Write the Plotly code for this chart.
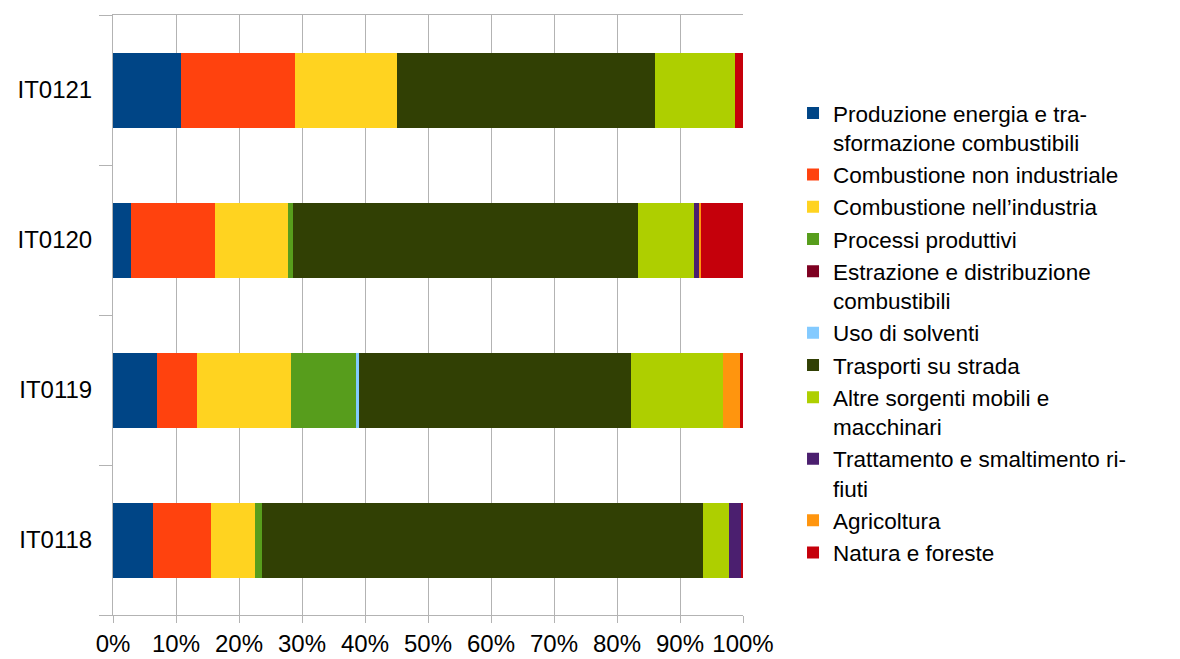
import plotly.graph_objects as go

stations = ["IT0121", "IT0120", "IT0119", "IT0118"]

sectors = [
    "Produzione energia e tra-<br>sformazione combustibili",
    "Combustione non industriale",
    "Combustione nell\u2019industria",
    "Processi produttivi",
    "Estrazione e distribuzione<br>combustibili",
    "Uso di solventi",
    "Trasporti su strada",
    "Altre sorgenti mobili e<br>macchinari",
    "Trattamento e smaltimento ri-<br>fiuti",
    "Agricoltura",
    "Natura e foreste",
]

colors = ["#004586", "#ff420e", "#ffd320", "#579d1c", "#7e0021", "#83caff",
          "#314004", "#aecf00", "#4b1f6f", "#ff950e", "#c5000b"]

# percentage share per sector, in the order of `stations`
produzione = [10.8, 2.85, 7.0, 6.3]
comb_non_ind = [18.1, 13.35, 6.4, 9.3]
comb_ind = [16.2, 11.5, 14.9, 7.0]
processi = [0.0, 0.9, 10.4, 1.0]
estrazione = [0.0, 0.0, 0.0, 0.0]
solventi = [0.0, 0.0, 0.3, 0.0]
trasporti = [41.0, 54.8, 43.2, 70.1]
altre_mobili = [12.7, 8.8, 14.7, 4.1]
rifiuti = [0.0, 0.9, 0.0, 1.9]
agricoltura = [0.0, 0.3, 2.6, 0.0]
natura = [1.2, 6.6, 0.5, 0.3]

series = [produzione, comb_non_ind, comb_ind, processi, estrazione, solventi,
          trasporti, altre_mobili, rifiuti, agricoltura, natura]

FONT = "Liberation Sans, Arial, sans-serif"
GRID = "#b3b3b3"

fig = go.Figure()
for name, vals, col in zip(sectors, series, colors):
    fig.add_trace(go.Bar(
        y=stations, x=vals, name=name, orientation="h",
        marker=dict(color=col, line=dict(width=0)),
    ))

fig.update_layout(
    barmode="stack",
    barnorm="percent",
    bargap=0.5,
    width=1180, height=659,
    margin=dict(l=113, r=437, t=15, b=44),
    paper_bgcolor="white",
    plot_bgcolor="white",
    font=dict(family=FONT, size=24, color="#000000"),
    legend=dict(
        x=1.0794, y=0.872, xanchor="left", yanchor="top",
        traceorder="normal", valign="top",
        font=dict(family=FONT, size=22.5, color="#000000"),
        tracegroupgap=0, itemclick=False,
    ),
    xaxis=dict(
        range=[0, 100], dtick=10, ticksuffix="%",
        showgrid=True, gridcolor=GRID, gridwidth=1,
        showline=True, linecolor=GRID, linewidth=1, mirror=True,
        ticks="outside", ticklen=7, tickcolor=GRID,
        zeroline=False, fixedrange=True, automargin=False,
        tickfont=dict(family=FONT, size=24),
    ),
    yaxis=dict(
        categoryorder="array", categoryarray=stations[::-1],
        tickson="boundaries", ticks="outside", ticklen=13, tickcolor=GRID,
        showline=True, linecolor=GRID, linewidth=1,
        showgrid=False, ticklabelstandoff=15, automargin=False,
        tickfont=dict(family=FONT, size=24),
    ),
)

fig.write_html(
    "out.html",
    config={"displayModeBar": False},
    post_script="document.body.style.margin='0';document.body.style.overflow='hidden';",
)
